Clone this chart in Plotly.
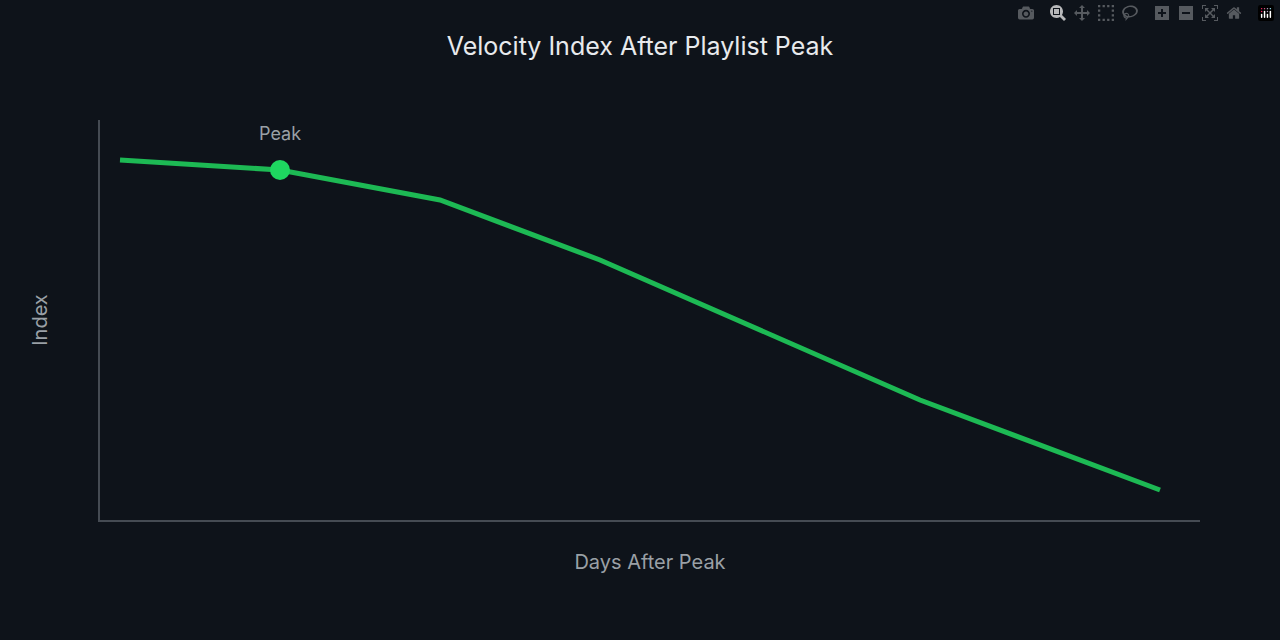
import plotly.graph_objects as go

days = [-1, 0, 1, 2, 4, 5.5]
index_vals = [90, 87.5, 80, 65, 30, 7.5]
peak_day = [0]
peak_val = [87.5]
peak_label = "Peak"

fig = go.Figure()
fig.add_trace(go.Scatter(x=days, y=index_vals, mode="lines",
                         line=dict(color="#1db954", width=5), hoverinfo="skip"))
fig.add_trace(go.Scatter(x=peak_day, y=peak_val, mode="markers",
                         marker=dict(color="#1ed760", size=20)))
fig.add_annotation(x=peak_day[0], y=peak_val[0], text=peak_label, showarrow=False,
                   yshift=37, font=dict(color="#9aa0a6", size=18, family="Inter"))
fig.update_layout(
    width=1280, height=640, showlegend=False,
    paper_bgcolor="#0e131a", plot_bgcolor="#0e131a",
    margin=dict(l=100, r=80, t=120, b=120),
    font=dict(family="Inter", color="#9aa0a6"),
    title=dict(text="Velocity Index After Playlist Peak", x=0.5, y=0.928, xanchor="center",
               yanchor="middle", font=dict(size=25, color="#e8eaed", family="Inter")),
    xaxis=dict(range=[-1.125, 5.75], showgrid=False, zeroline=False, showticklabels=False,
               showline=True, linecolor="#454b53", linewidth=2,
               title=dict(text="Days After Peak", font=dict(size=20), standoff=34)),
    yaxis=dict(range=[0, 100], showgrid=False, zeroline=False, showticklabels=False,
               showline=True, linecolor="#454b53", linewidth=2,
               title=dict(text="Index", font=dict(size=20), standoff=45)),
)
fig.write_html("out.html", post_script="document.body.style.margin='0';document.body.style.background='#0e131a';")
